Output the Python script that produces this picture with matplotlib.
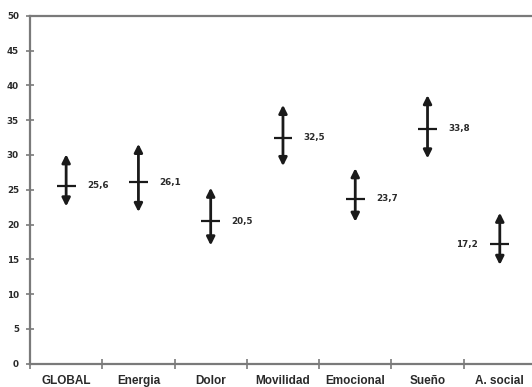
import matplotlib
matplotlib.use("Agg")
import matplotlib.pyplot as plt
import numpy as np

plt.rcParams['font.family'] = ['Liberation Sans', 'DejaVu Sans']

categories = ["GLOBAL", "Energia", "Dolor", "Movilidad", "Emocional", "Sueño", "A. social"]
means = [25.6, 26.1, 20.5, 32.5, 23.7, 33.8, 17.2]
lower = [22.6, 21.8, 17.0, 28.4, 20.4, 29.5, 14.2]
upper = [30.1, 31.6, 25.3, 37.2, 28.1, 38.6, 21.7]
labels = ["25,6", "26,1", "20,5", "32,5", "23,7", "33,8", "17,2"]

fig = plt.figure(figsize=(5.32, 3.87), dpi=100)
ax = fig.add_axes([0.0564, 0.0602, 0.951, 0.899])

n = len(categories)
xs = np.arange(n) + 0.5
ax.set_xlim(0, n)
ax.set_ylim(0, 50)

ink = "#1a1a1a"
num_font = dict(family="DejaVu Sans", fontsize=6.3, fontweight="bold", color="#2a2a2a")
for i, x in enumerate(xs):
    for end in (upper[i], lower[i]):
        ax.annotate("", xy=(x, end), xytext=(x, means[i]),
                    arrowprops=dict(arrowstyle="-|>", lw=2.0, color=ink,
                                    mutation_scale=12, shrinkA=0, shrinkB=0))
    ax.plot([x - 0.13, x + 0.13], [means[i], means[i]], color=ink, lw=1.6,
            solid_capstyle="butt")
    if i == n - 1:
        ax.annotate(labels[i], xy=(x, means[i]), xytext=(-16, 0),
                    textcoords="offset points", ha="right", va="center", **num_font)
    else:
        ax.annotate(labels[i], xy=(x, means[i]), xytext=(15, 0),
                    textcoords="offset points", ha="left", va="center", **num_font)

spine_c = "#7a7a7a"
for side in ("left", "bottom", "top"):
    ax.spines[side].set_color(spine_c)
    ax.spines[side].set_linewidth(1.6)
ax.spines["right"].set_visible(False)

ax.set_yticks(np.arange(0, 51, 5))
ax.set_yticklabels([str(v) for v in range(0, 51, 5)], **num_font)
ax.set_xticks(np.arange(0, n + 1))
ax.set_xticklabels([])
ax.set_xticks(xs, minor=True)
ax.set_xticklabels(categories, minor=True, fontsize=8.5, fontweight="bold",
                   color="#2a2a2a")
ax.tick_params(axis="y", direction="inout", length=6, width=1.2, color=spine_c, pad=5)
ax.tick_params(axis="x", which="major", direction="inout", length=7, width=1.2,
               color=spine_c)
ax.tick_params(axis="x", which="minor", length=0, pad=8)

fig.savefig("out.png", dpi=100)
